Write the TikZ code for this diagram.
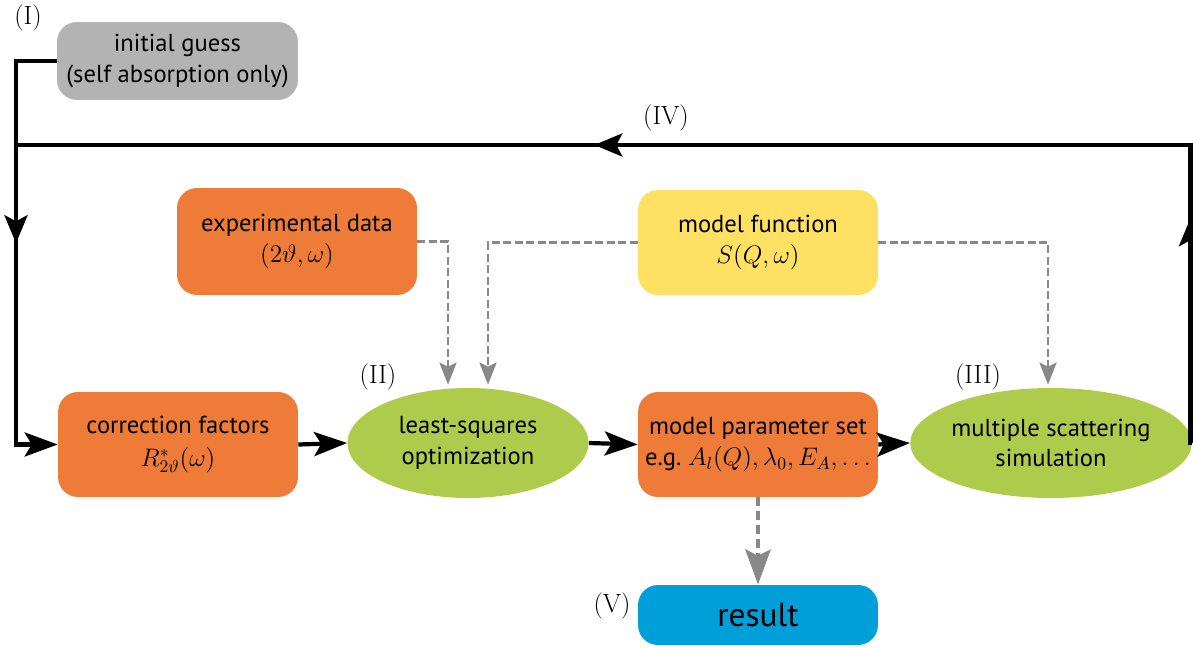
\documentclass[tikz,border=0pt]{standalone}
\usepackage{fontspec}
\setsansfont{PT Sans}
\usetikzlibrary{arrows.meta,shapes.geometric,decorations.markings}
\definecolor{cgray}{HTML}{B3B3B3}
\definecolor{corange}{HTML}{EE7B37}
\definecolor{cyellow}{HTML}{FEE062}
\definecolor{cgreen}{HTML}{AFCB4C}
\definecolor{cblue}{HTML}{009FD9}
\definecolor{cdash}{HTML}{888888}
\begin{document}
\begin{tikzpicture}[x=0.02cm,y=-0.02cm,
  box/.style={rounded corners=0.4cm, minimum width=4.8cm, minimum height=2.1cm, align=center, inner sep=0pt, font=\sffamily\fontsize{14}{17.5}\selectfont},
  ell/.style={ellipse, fill=cgreen, minimum width=4.82cm, minimum height=2.2cm, align=center, inner sep=0pt, font=\sffamily\fontsize{14}{17.5}\selectfont},
  lab/.style={font=\rmfamily\fontsize{15}{18}\selectfont, inner sep=0pt},
  flow/.style={line width=2.4pt, -{Stealth[length=0.66cm,width=0.48cm,inset=0.14cm]}},
  loopline/.style={line width=2.4pt},
  midarrow/.style={postaction={decorate, decoration={markings, mark=at position #1 with {\arrow{Stealth[length=0.56cm,width=0.46cm,inset=0.12cm]}}}}},
  dashin/.style={draw=cdash, line width=1.6pt, dash pattern=on 0.16cm off 0.07cm, -{Stealth[length=0.44cm,width=0.34cm,inset=0.08cm]}},
  bigdash/.style={draw=cdash, line width=2.6pt, dash pattern=on 0.18cm off 0.1cm, -{Stealth[length=0.7cm,width=0.5cm,inset=0.12cm]}}
]
\useasboundingbox (0,0) rectangle (1193,648);

% nodes
\node[box, fill=cgray, minimum height=1.56cm, minimum width=4.82cm] (init) at (177.5,61) {initial guess\\(self absorption only)};
\node[box, fill=corange, minimum height=2.14cm] (exp) at (297,241.5) {experimental data\\$(2\vartheta,\omega)$};
\node[box, fill=cyellow] (mf) at (758,242.5) {model function\\$S(Q,\omega)$};
\node[box, fill=corange] (corr) at (178,444.5) {correction factors\\[1.5pt]$R^{*}_{2\vartheta}(\omega)$};
\node[ell] (ls) at (468,443) {least-squares\\optimization};
\node[box, fill=corange] (mp) at (758,444.5) {model parameter set\\e.g.\ $A_l(Q),\lambda_0,E_A,\dots$};
\node[ell] (ms) at (1051,443) {multiple scattering\\simulation};
\node[box, fill=cblue, minimum height=1.2cm, font=\sffamily\fontsize{19}{22}\selectfont] (res) at (758,615) {result};

% labels
\node[lab] (l1) at (28,18) {(I)};
\node[lab] (l2) at (378,377) {(II)};
\node[lab] (l3) at (978,377) {(III)};
\node[lab] (l4) at (666,118) {(IV)};
\node[lab] (l5) at (612,606) {(V)};

% helper coordinates
\coordinate (lx) at (16,145);
\coordinate (rx) at (1190.5,145);

% left feed line
\draw[flow, midarrow=4.46cm] (init.west) -| (lx |- corr.west) -- (corr.west);
% main chain
\draw[flow] (corr.east) -- (ls.west);
\draw[flow] (ls.east) -- (mp.west);
\draw[flow] (mp.east) -- (ms.west);
% feedback loop
\draw[loopline, line join=miter, midarrow=4.53cm, midarrow=17.92cm] (ms.east) -- (rx |- ms.east) -- (rx) -- (lx);

% dashed inputs
\draw[dashin] (exp.east) -| ([xshift=-0.4cm,yshift=0.06cm]ls.north);
\draw[dashin] (mf.west) -| ([xshift=0.4cm,yshift=0.06cm]ls.north);
\draw[dashin] (mf.east) -| ([xshift=-0.06cm,yshift=0.06cm]ms.north);
\draw[bigdash] (mp.south) -- (res.north);
\end{tikzpicture}
\end{document}
